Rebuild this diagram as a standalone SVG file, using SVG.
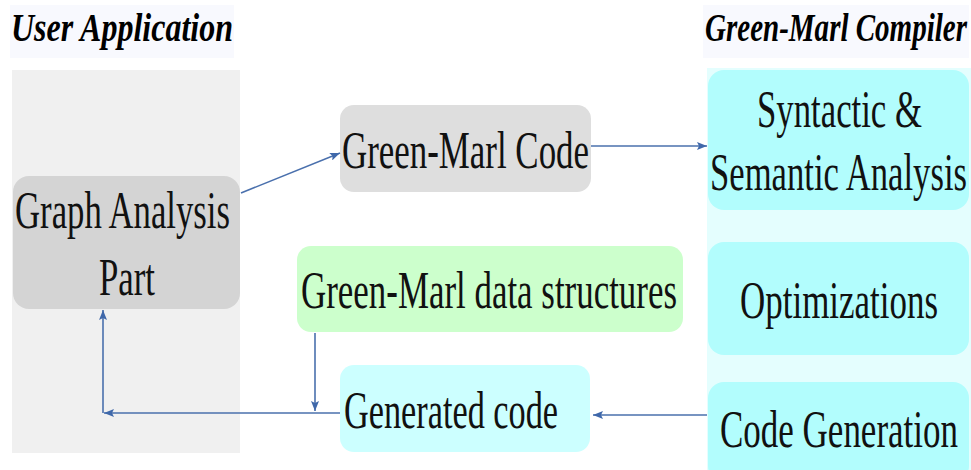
<svg xmlns="http://www.w3.org/2000/svg" width="971" height="470" viewBox="0 0 971 470">
<style>
.t{font-family:"Liberation Serif","Times New Roman",serif;font-size:52px;fill:#111;}
.h{font-family:"Liberation Serif","Times New Roman",serif;font-size:40px;font-weight:bold;font-style:italic;fill:#000;}
.c{stroke:#4a70ad;stroke-width:1.6;fill:none;}
</style>
<defs>
<marker id="ah" viewBox="0 0 10 8" refX="10" refY="4" markerWidth="10" markerHeight="8" markerUnits="userSpaceOnUse" orient="auto">
<path d="M0,0 L10,4 L0,8 L2,4 z" fill="#3f68aa"/>
</marker>
</defs>
<rect width="971" height="470" fill="#fff"/>
<g id="headers">
<rect x="10" y="5" width="224" height="53" fill="#f8f9fe"/>
<text class="h" x="11" y="41" textLength="222" lengthAdjust="spacingAndGlyphs">User Application</text>
<rect x="703" y="5" width="266" height="53" fill="#f8f9fe"/>
<text class="h" x="705" y="41" textLength="262" lengthAdjust="spacingAndGlyphs">Green-Marl Compiler</text>
</g>
<g id="user-panel"><rect x="12" y="70" width="228" height="383" fill="#f0f0f0"/></g>
<g id="compiler-panel"><rect x="707" y="68" width="264" height="402" fill="#e4fefe"/></g>
<g id="graph-analysis">
<rect x="13" y="176" width="227" height="133" rx="16" fill="#d4d4d4"/>
<text class="t" x="15" y="228" textLength="215" lengthAdjust="spacingAndGlyphs">Graph Analysis</text>
<text class="t" x="99" y="295" textLength="56" lengthAdjust="spacingAndGlyphs">Part</text>
</g>
<g id="green-marl-code">
<rect x="340" y="105" width="251" height="87" rx="14" fill="#dedede"/>
<text class="t" x="342" y="168" textLength="247" lengthAdjust="spacingAndGlyphs">Green-Marl Code</text>
</g>
<g id="data-structures">
<rect x="297" y="246" width="386" height="86" rx="14" fill="#ccffcc"/>
<text class="t" x="301" y="308" textLength="376" lengthAdjust="spacingAndGlyphs">Green-Marl data structures</text>
</g>
<g id="generated-code">
<rect x="340" y="365" width="250" height="87" rx="14" fill="#ccffff"/>
<text class="t" x="344" y="428" textLength="214" lengthAdjust="spacingAndGlyphs">Generated code</text>
</g>
<g id="syntactic">
<rect x="708" y="70" width="261" height="140" rx="16" fill="#b2fdfd"/>
<text class="t" x="757" y="127" textLength="165" lengthAdjust="spacingAndGlyphs">Syntactic &amp;</text>
<text class="t" x="710" y="190" textLength="257" lengthAdjust="spacingAndGlyphs">Semantic Analysis</text>
</g>
<g id="optimizations">
<rect x="708" y="242" width="261" height="113" rx="16" fill="#b2fdfd"/>
<text class="t" x="740" y="318" textLength="198" lengthAdjust="spacingAndGlyphs">Optimizations</text>
</g>
<g id="code-generation">
<rect x="708" y="382" width="261" height="100" rx="16" fill="#b2fdfd"/>
<text class="t" x="720" y="447" textLength="238" lengthAdjust="spacingAndGlyphs">Code Generation</text>
</g>
<g id="connectors">
<line class="c" x1="241" y1="193" x2="340" y2="153" marker-end="url(#ah)"/>
<line class="c" x1="591" y1="146" x2="707" y2="146" marker-end="url(#ah)"/>
<line class="c" x1="707" y1="415" x2="593" y2="415" marker-end="url(#ah)"/>
<line class="c" x1="315" y1="333" x2="315" y2="411" marker-end="url(#ah)"/>
<line class="c" x1="340" y1="413" x2="104" y2="413" marker-end="url(#ah)"/>
<line class="c" x1="103" y1="413" x2="103" y2="310" marker-end="url(#ah)"/>
</g>
</svg>
